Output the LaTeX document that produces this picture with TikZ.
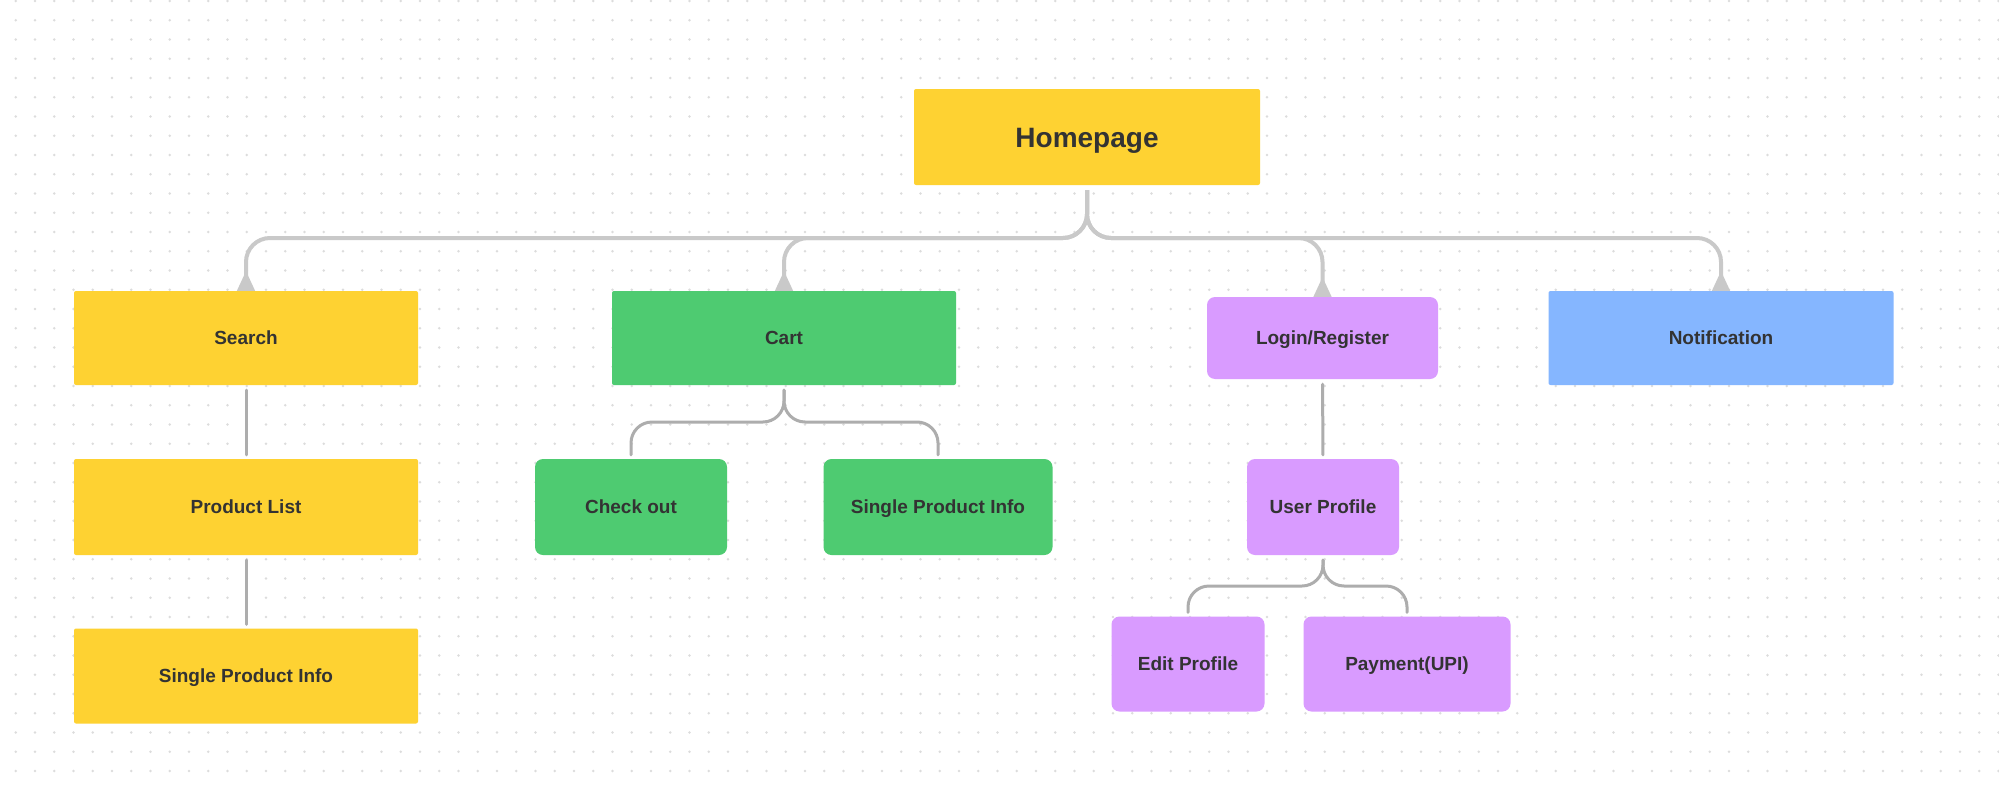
\documentclass[tikz,border=0pt]{standalone}
\usepackage{fontspec}
\setmainfont{Liberation Sans}
\usetikzlibrary{arrows.meta}
\definecolor{ylw}{HTML}{FED232}
\definecolor{grn}{HTML}{4ECB71}
\definecolor{prp}{HTML}{D99BFF}
\definecolor{blu}{HTML}{85B6FF}
\definecolor{txt}{HTML}{333333}
\definecolor{lnA}{HTML}{C9C9C9}
\definecolor{lnB}{HTML}{ADADAD}
\definecolor{dotc}{HTML}{DCDCDC}
\begin{document}
\begin{tikzpicture}[x=1pt,y=-1pt,
  box/.style={inner sep=0pt, text=txt, font=\bfseries\fontsize{19}{22}\selectfont, text height=13.6pt, text depth=0pt},
  sq/.style={box, rounded corners=2pt},
  rd/.style={box, rounded corners=8pt},
  rootline/.style={draw=lnA, line width=4pt, rounded corners=24pt, shorten <=5pt, -{Triangle[reversed,length=20pt,width=17pt]}},
  subline/.style={draw=lnB, line width=3pt, rounded corners=21pt, line cap=round, shorten <=5pt, shorten >=4pt},
]
\useasboundingbox[fill=white] (0,0) rectangle (1999,787);
% dot grid
\foreach \i in {0,...,103}{
  \foreach \j in {0,...,40}{
    \fill[dotc] ({15.7+19.25*\i},{1+19.25*\j}) circle (1.4pt);
  }
}
% nodes
\node[sq, fill=ylw, minimum width=346pt, minimum height=96pt, font=\bfseries\fontsize{28}{32}\selectfont, text height=20pt] (home) at (1087,137) {Homepage};
\node[sq, fill=ylw, minimum width=344pt, minimum height=94pt] (search) at (246,338) {Search};
\node[sq, fill=grn, minimum width=344pt, minimum height=94pt] (cart) at (784,338) {Cart};
\node[rd, fill=prp, minimum width=231pt, minimum height=82pt] (login) at (1322.5,338) {Login/Register};
\node[sq, fill=blu, minimum width=345pt, minimum height=94pt] (notif) at (1721,338) {Notification};
\node[sq, fill=ylw, minimum width=344pt, minimum height=96pt] (plist) at (246,507) {Product List};
\node[sq, fill=ylw, minimum width=344pt, minimum height=95pt] (spione) at (246,676) {Single Product Info};
\node[rd, fill=grn, minimum width=192pt, minimum height=96pt] (chk) at (631,507) {Check out};
\node[rd, fill=grn, minimum width=229pt, minimum height=96pt] (spitwo) at (938,507) {Single Product Info};
\node[rd, fill=prp, minimum width=152pt, minimum height=96pt] (uprof) at (1323,507) {User Profile};
\node[rd, fill=prp, minimum width=153pt, minimum height=95pt] (edit) at (1188,664) {Edit Profile};
\node[rd, fill=prp, minimum width=207pt, minimum height=95pt] (pay) at (1407,664) {Payment(UPI)};
% junction levels
\coordinate (hy) at (0,238);
\coordinate (cy) at (0,422);
\coordinate (uy) at (0,586);
% root connectors
\draw[rootline] (home.south) -- (home.south |- hy) -- (search.north |- hy) -- (search.north);
\draw[rootline] (home.south) -- (home.south |- hy) -- (cart.north |- hy) -- (cart.north);
\draw[rootline] (home.south) -- (home.south |- hy) -- (login.north |- hy) -- (login.north);
\draw[rootline] (home.south) -- (home.south |- hy) -- (notif.north |- hy) -- (notif.north);
% sub connectors
\draw[subline] (search.south) -- (plist.north);
\draw[subline] (plist.south) -- (spione.north);
\draw[subline] (login.south) -- (uprof.north);
\draw[subline] (cart.south) -- (cart.south |- cy) -- (chk.north |- cy) -- (chk.north);
\draw[subline] (cart.south) -- (cart.south |- cy) -- (spitwo.north |- cy) -- (spitwo.north);
\draw[subline] (uprof.south) -- (uprof.south |- uy) -- (edit.north |- uy) -- (edit.north);
\draw[subline] (uprof.south) -- (uprof.south |- uy) -- (pay.north |- uy) -- (pay.north);
\end{tikzpicture}
\end{document}
